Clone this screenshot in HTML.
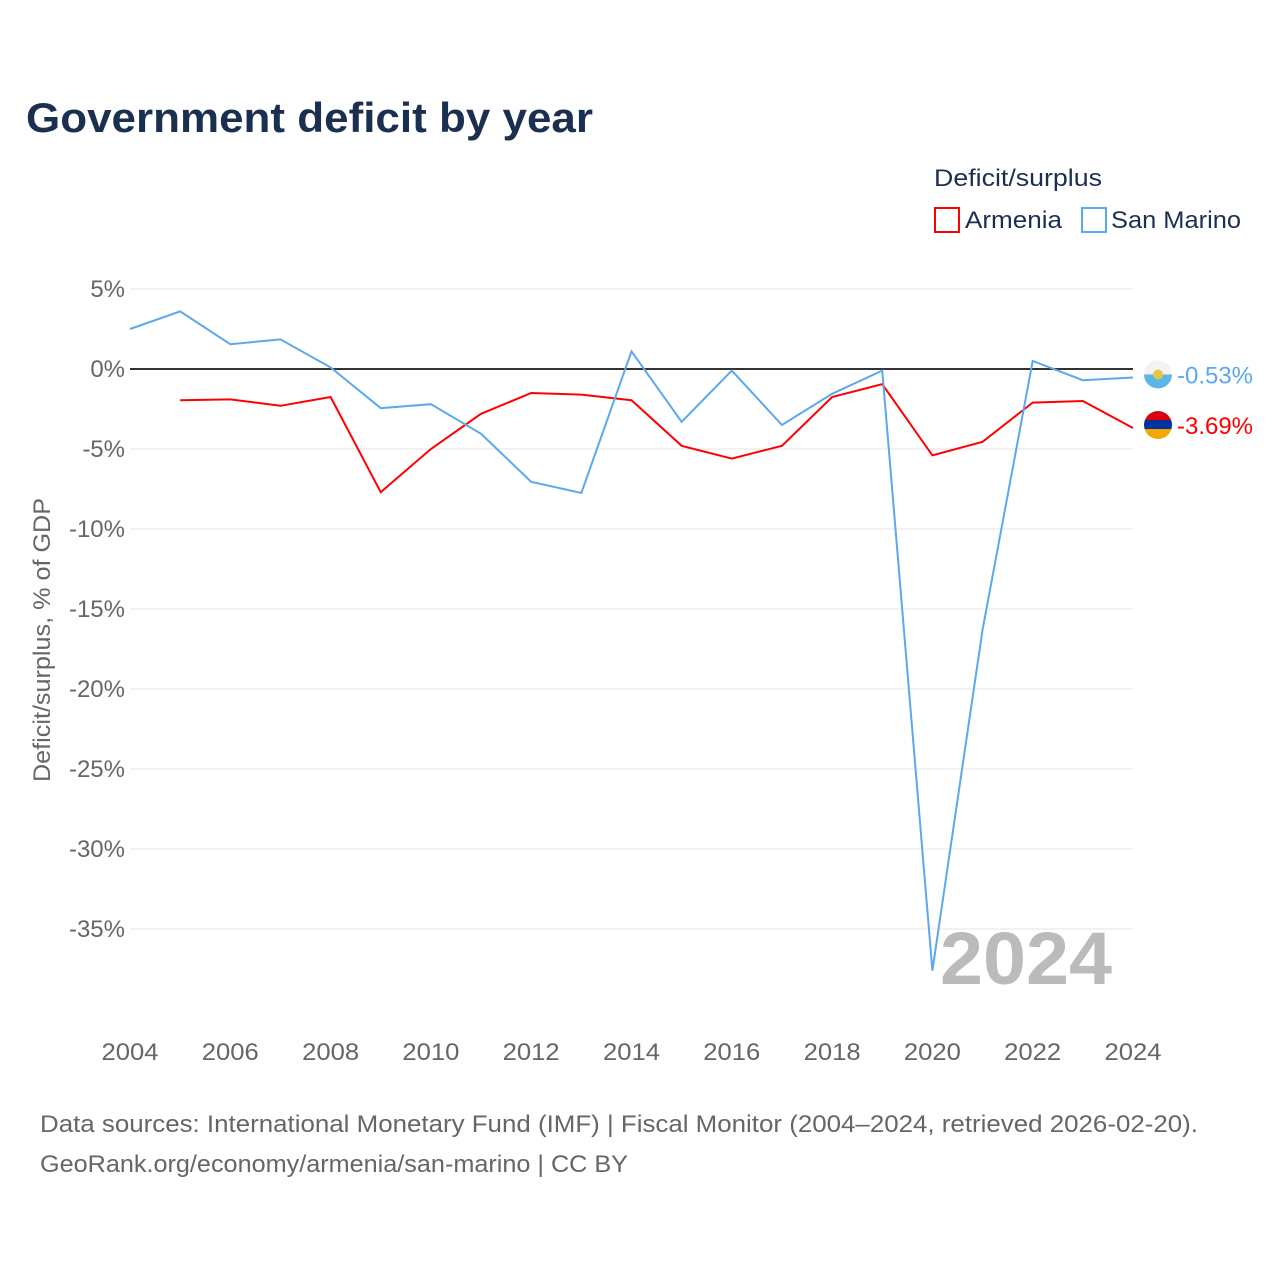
<!DOCTYPE html>
<html><head><meta charset="utf-8"><style>
body{margin:0;background:#fff;font-family:"Liberation Sans",sans-serif}
svg text{font-family:"Liberation Sans",sans-serif}
</style></head><body>
<svg width="1280" height="1280" viewBox="0 0 1280 1280" id="svg">
<text x="26" y="132" font-size="42" font-weight="bold" fill="#1b3050" textLength="567" lengthAdjust="spacingAndGlyphs">Government deficit by year</text>
<text x="934" y="186" font-size="24" fill="#1b3050" textLength="168" lengthAdjust="spacingAndGlyphs">Deficit/surplus</text>
<g><rect x="935" y="208" width="24" height="24" fill="none" stroke="#f00" stroke-width="2"/><text x="965" y="228" font-size="24" fill="#1b3050" textLength="97" lengthAdjust="spacingAndGlyphs">Armenia</text></g>
<g><rect x="1082" y="208" width="24" height="24" fill="none" stroke="#5ca8ec" stroke-width="2"/><text x="1111" y="228" font-size="24" fill="#1b3050" textLength="130" lengthAdjust="spacingAndGlyphs">San Marino</text></g>
<text transform="translate(50,640) rotate(-90)" text-anchor="middle" font-size="24" fill="#666" textLength="284" lengthAdjust="spacingAndGlyphs">Deficit/surplus, % of GDP</text>
<g id="grid"></g><g id="marks"></g>
<text x="1112" y="984" text-anchor="end" font-size="74" font-weight="bold" fill="#bbb" textLength="172" lengthAdjust="spacingAndGlyphs">2024</text>
<text x="40" y="1132" font-size="24" fill="#666" textLength="1158" lengthAdjust="spacingAndGlyphs">Data sources: International Monetary Fund (IMF) | Fiscal Monitor (2004–2024, retrieved 2026-02-20).</text>
<text x="40" y="1172" font-size="24" fill="#666" textLength="588" lengthAdjust="spacingAndGlyphs">GeoRank.org/economy/armenia/san-marino | CC BY</text>
</svg>
<script>
const years=[2004,2005,2006,2007,2008,2009,2010,2011,2012,2013,2014,2015,2016,2017,2018,2019,2020,2021,2022,2023,2024];
const sanMarino=[2.5,3.6,1.55,1.85,0.1,-2.45,-2.2,-4.05,-7.05,-7.75,1.1,-3.3,-0.1,-3.5,-1.55,-0.1,-37.6,-16.3,0.5,-0.7,-0.53];
const armenia=[null,-1.95,-1.9,-2.3,-1.75,-7.7,-5.0,-2.8,-1.5,-1.6,-1.95,-4.8,-5.6,-4.8,-1.75,-0.95,-5.4,-4.55,-2.1,-2.0,-3.69];
const yTicks=[5,0,-5,-10,-15,-20,-25,-30,-35];
const xTicks=[2004,2006,2008,2010,2012,2014,2016,2018,2020,2022,2024];
const NS="http://www.w3.org/2000/svg";
const X=v=>130+(v-2004)*(1133-130)/20, Y=v=>369-v*16;
function mk(t,a,p){const e=document.createElementNS(NS,t);for(const k in a)e.setAttribute(k,a[k]);p.appendChild(e);return e;}
const g=document.getElementById('grid'),m=document.getElementById('marks');
yTicks.forEach(v=>{
 const l=mk('line',{x1:130,x2:1133,y1:Y(v),y2:Y(v),stroke:v===0?'#333':'#e6e6e6','stroke-width':v===0?2:1},g);
 
 
 const t=mk('text',{x:125,y:Y(v)+8,'text-anchor':'end','font-size':24,fill:'#666'},g);t.textContent=v+'%';
 
 
});
xTicks.forEach(v=>{
 const t=mk('text',{x:X(v),y:1060,'text-anchor':'middle','font-size':24,fill:'#666',textLength:57,lengthAdjust:'spacingAndGlyphs'},g);t.textContent=v;
 
 
});
function line(d,c,name){
 let s='';d.forEach((v,i)=>{if(v==null)return;s+=(s?'L':'M')+X(years[i])+','+Y(v);});
 const p=mk('path',{d:s,fill:'none',stroke:c,'stroke-width':2},m);
 
 
}
line(armenia,'#f00','armenia-line');line(sanMarino,'#5ca8ec','san-marino-line');
function endLabel(v,c,name,flag){
 const y=Y(v)-3,x=1158;
 const gg=mk('g',{},m);
 
 
 if(flag==='am'){
  mk('clipPath',{id:'cam'},gg);mk('circle',{cx:x,cy:y,r:14},gg.lastChild);
  const f=mk('g',{'clip-path':'url(#cam)'},gg);
  mk('rect',{x:x-14,y:y-14,width:28,height:10,fill:'#d90012'},f);
  mk('rect',{x:x-14,y:y-5,width:28,height:10,fill:'#0033a0'},f);
  mk('rect',{x:x-14,y:y+4,width:28,height:10,fill:'#f2a800'},f);
 }else{
  mk('clipPath',{id:'csm'},gg);mk('circle',{cx:x,cy:y,r:14},gg.lastChild);
  const f=mk('g',{'clip-path':'url(#csm)'},gg);
  mk('rect',{x:x-14,y:y-14,width:28,height:14,fill:'#f2f2f2'},f);
  mk('rect',{x:x-14,y:y,width:28,height:14,fill:'#5eb6e4'},f);
  mk('circle',{cx:x,cy:y,r:5,fill:'#e8c44a'},f);
 }
 const t=mk('text',{x:1177,y:y+9,'font-size':24,fill:c,textLength:76,lengthAdjust:'spacingAndGlyphs'},gg);t.textContent=v.toFixed(2)+'%';
}
endLabel(sanMarino[20],'#5ca8ec','san-marino-end-label','sm');
endLabel(armenia[20],'#f00','armenia-end-label','am');
</script>
</body></html>
